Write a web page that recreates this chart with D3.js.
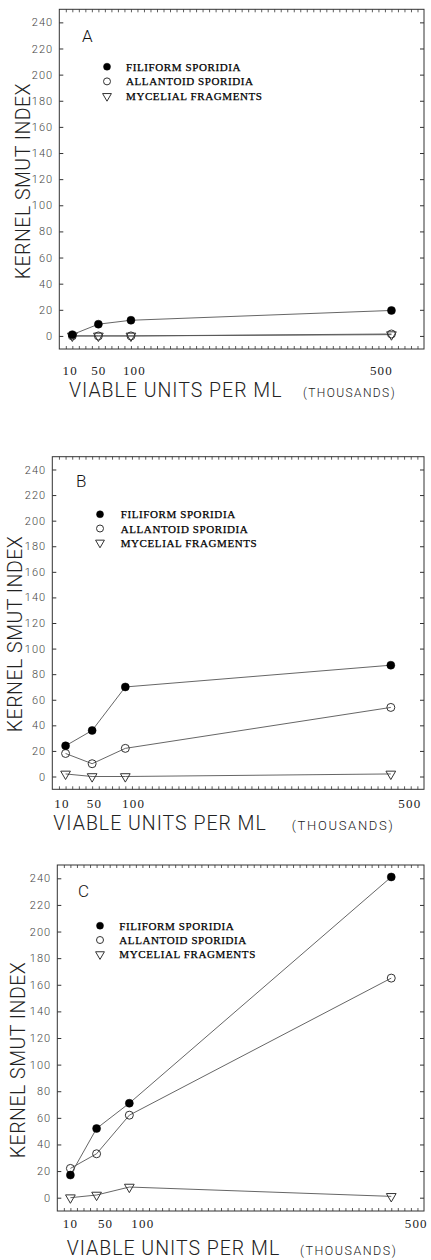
<!DOCTYPE html>
<html><head><meta charset="utf-8">
<script src="https://cdn.jsdelivr.net/npm/d3@7"></script>
<style>body{margin:0;background:#fff}svg{display:block}</style>
</head><body><svg id="c" width="431" height="1260"></svg>
<script>
// ---------- data ----------
const xValues = [10, 50, 100, 500];
const xTickLabels = ["10", "50", "100", "500"];
const yTickValues = [0, 20, 40, 60, 80, 100, 120, 140, 160, 180, 200, 220, 240];
const seriesNames = ["FILIFORM SPORIDIA", "ALLANTOID SPORIDIA", "MYCELIAL FRAGMENTS"];
const panelLabels = ["A", "B", "C"];
const filiformA = [1, 9, 12, 19.5];
const allantoidA = [0, 0, 0, 1.5];
const myceliumA = [0, 0, 0, 1];
const filiformB = [24, 36, 70, 87];
const allantoidB = [18, 10, 22, 54];
const myceliumB = [2, 0, 0, 2];
const filiformC = [17, 52, 71, 241];
const allantoidC = [22, 33, 62, 165];
const myceliumC = [0, 2, 8, 1];
const xTitle = "VIABLE UNITS PER ML";
const xUnit = "(THOUSANDS)";
const yTitle = "KERNEL SMUT INDEX";
const xDomain = [-10, 550];
const yDomain = [-10, 250];
const minorXTicks = d3.range(0, 550, 10);

// ---------- layout ----------
const layouts = [
  {left:59.3, right:424, top:9.3, bottom:349, legX:107, legTX:126, legY:66.7, legStep:14.7,
   letX:82, letY:41.7, xlDx:[-2,0.5,3.5,-10], xlY:375, xtX:69, xtY:397, unitX:303, unitFs:12, unitLs:1.4,
   ytX:30, ytDy:2},
  {left:52.3, right:424, top:456.7, bottom:789.3, legX:100, legTX:120.7, legY:514.3, legStep:14.2,
   letX:76, letY:486.7, xlDx:[-3.6,2.3,8.3,19], xlY:808, xtX:53.3, xtY:830, unitX:291.7, unitFs:13, unitLs:1.7,
   ytX:22, ytDy:11},
  {left:57.3, right:424, top:865, bottom:1211, legX:100, legTX:119.3, legY:925.7, legStep:14.3,
   letX:78, letY:897.3, xlDx:[0,9,13.5,25], xlY:1228.3, xtX:66.7, xtY:1255, unitX:300, unitFs:12.5, unitLs:1.5,
   ytX:25, ytDy:22}
];
const panelData = [
  [filiformA, allantoidA, myceliumA],
  [filiformB, allantoidB, myceliumB],
  [filiformC, allantoidC, myceliumC]
];

const svg = d3.select("#c");
const light = "Roboto, 'Liberation Sans', Arial, sans-serif";
const serif = "'Liberation Serif', 'Times New Roman', serif";

function marker(type, r) {
  if (type === 2) {
    return d3.symbol().type(d3.symbolTriangle).size(r * r * 1.35)();
  }
  return d3.symbol().type(d3.symbolCircle).size(Math.PI * r * r)();
}
function styleMarker(sel, type) {
  if (type === 0) sel.attr("fill", "#000").attr("stroke", "#000").attr("stroke-width", 0.5);
  else sel.attr("fill", "none").attr("stroke", "#333").attr("stroke-width", 1);
}

layouts.forEach((p, i) => {
  const x = d3.scaleLinear().domain(xDomain).range([p.left, p.right]);
  const y = d3.scaleLinear().domain(yDomain).range([p.bottom, p.top]);
  const g = svg.append("g");

  // frame
  g.append("rect").attr("x", p.left).attr("y", p.top)
    .attr("width", p.right - p.left).attr("height", p.bottom - p.top)
    .attr("fill", "none").attr("stroke", "#333").attr("stroke-width", 1);

  // left axis with labels
  const la = g.append("g").attr("transform", `translate(${p.left},0)`)
    .call(d3.axisLeft(y).tickValues(yTickValues).tickSize(-4).tickPadding(6).tickFormat(d3.format("d")));
  la.select(".domain").remove();
  la.selectAll("line").attr("stroke", "#333");
  la.selectAll("text").attr("font-family", light).attr("font-weight", 300).attr("font-size", 11)
    .attr("letter-spacing", 1.1).attr("fill", "#444");

  const ra = g.append("g").attr("transform", `translate(${p.right},0)`)
    .call(d3.axisRight(y).tickValues(yTickValues).tickSize(-4).tickFormat(""));
  ra.select(".domain").remove();
  ra.selectAll("line").attr("stroke", "#333");

  const ta = g.append("g").attr("transform", `translate(0,${p.top})`)
    .call(d3.axisTop(x).tickValues(minorXTicks).tickSize(-3).tickFormat(""));
  ta.select(".domain").remove();
  ta.selectAll("line").attr("stroke", "#333").attr("stroke-width", 0.8);

  const ba = g.append("g").attr("transform", `translate(0,${p.bottom})`)
    .call(d3.axisBottom(x).tickValues(minorXTicks).tickSize(-3).tickFormat(""));
  ba.select(".domain").remove();
  ba.selectAll("line").attr("stroke", "#333").attr("stroke-width", 0.8);

  // x tick labels
  g.selectAll(".xl").data(xValues).enter().append("text")
    .attr("x", (d, k) => x(d) + p.xlDx[k]).attr("y", p.xlY)
    .attr("text-anchor", "middle").attr("font-family", serif).attr("font-size", 13)
    .attr("letter-spacing", 1.2).attr("fill", "#222")
    .text((d, k) => xTickLabels[k]);

  // axis titles
  g.append("text").attr("x", p.xtX).attr("y", p.xtY)
    .attr("font-family", light).attr("font-weight", 300).attr("font-size", 19.5).attr("letter-spacing", 1.0)
    .attr("fill", "#222").text(xTitle);
  g.append("text").attr("x", p.unitX).attr("y", p.xtY)
    .attr("font-family", light).attr("font-weight", 300).attr("font-size", p.unitFs).attr("letter-spacing", p.unitLs)
    .attr("fill", "#222").text(xUnit);
  const cy = (p.top + p.bottom) / 2 + p.ytDy;
  g.append("text").attr("transform", `translate(${p.ytX},${cy}) rotate(-90)`)
    .attr("text-anchor", "middle").attr("font-family", light).attr("font-weight", 300).attr("font-size", 19.5)
    .attr("letter-spacing", 0.5).attr("fill", "#222").text(yTitle);

  // panel letter
  g.append("text").attr("x", p.letX).attr("y", p.letY)
    .attr("font-family", light).attr("font-weight", 300).attr("font-size", 17).attr("fill", "#111").text(panelLabels[i]);

  // series lines
  const line = d3.line().x(d => x(d[0])).y(d => y(d[1]));
  const series = panelData[i];
  [2, 1, 0].forEach(s => {
    const pts = xValues.map((v, k) => [v, series[s][k]]);
    g.append("path").attr("d", line(pts)).attr("fill", "none")
      .attr("stroke", "#555").attr("stroke-width", 0.9);
  });
  // markers
  [1, 2, 0].forEach(s => {
    const pts = xValues.map((v, k) => [v, series[s][k]]);
    const m = g.selectAll(null).data(pts).enter().append("path")
      .attr("d", marker(s, s === 2 ? 5.5 : 4))
      .attr("transform", d => `translate(${x(d[0])},${y(d[1])})` + (s === 2 ? " rotate(180)" : ""));
    styleMarker(m, s);
  });

  // legend
  seriesNames.forEach((name, s) => {
    const ly = p.legY + s * p.legStep;
    const m = g.append("path").attr("d", marker(s, s === 2 ? 5 : 3.5))
      .attr("transform", `translate(${p.legX},${ly})` + (s === 2 ? " rotate(180)" : ""));
    styleMarker(m, s);
    g.append("text").attr("x", p.legTX).attr("y", ly + 4)
      .attr("font-family", serif).attr("font-size", 11).attr("letter-spacing", 0.6)
      .attr("fill", "#000").attr("stroke", "#000").attr("stroke-width", 0.25).text(name);
  });
});
</script>
</body></html>
